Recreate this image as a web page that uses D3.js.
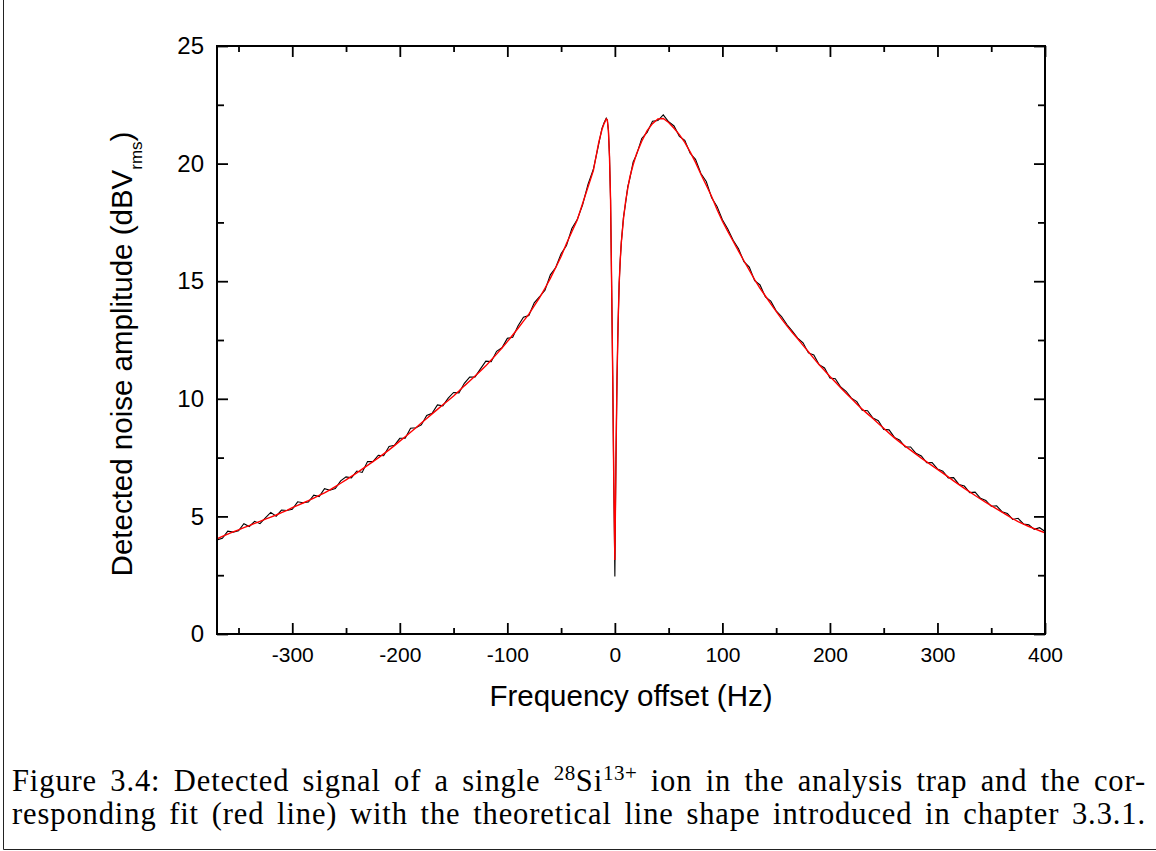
<!DOCTYPE html>
<html>
<head>
<meta charset="utf-8">
<script src="https://cdn.jsdelivr.net/npm/d3@7"></script>
<style>
  html, body { margin: 0; padding: 0; background: #fff; }
  svg { display: block; }
</style>
</head>
<body>
<svg id="chart" width="1156" height="851"></svg>
<script>
// frequency offset (Hz) shared by measured signal and fit
const freq = [
  -370, -365, -360, -355, -350, -345, -340, -335, -330, -325, -320, -315, -310, -305, -300,
  -295, -290, -285, -280, -275, -270, -265, -260, -255, -250, -245, -240, -235, -230, -225,
  -220, -215, -210, -205, -200, -195, -190, -185, -180, -175, -170, -165, -160, -155, -150,
  -145, -140, -135, -130, -125, -120, -115, -110, -105, -100, -95, -90, -85, -80, -75,
  -70, -65, -60, -55, -50, -45, -40, -35, -30, -25, -20, -15,
  -12, -10, -8, -7, -6, -5, -4, -3, -2, -1, 0, 1, 2, 3, 4, 5, 6, 8, 10, 12, 14, 17, 20,
  25, 30, 35, 40, 45, 50, 55, 60, 65, 70, 75, 80, 85, 90, 95, 100,
  105, 110, 115, 120, 125, 130, 135, 140, 145, 150, 155, 160, 165, 170, 175, 180,
  185, 190, 195, 200, 205, 210, 215, 220, 225, 230, 235, 240, 245, 250, 255, 260,
  265, 270, 275, 280, 285, 290, 295, 300, 305, 310, 315, 320, 325, 330, 335, 340,
  345, 350, 355, 360, 365, 370, 375, 380, 385, 390, 395, 400
];

// measured noise amplitude (black)
const signal = [
  4.00, 4.07, 4.37, 4.33, 4.39, 4.69, 4.57, 4.79, 4.69, 4.94, 5.17, 5.01, 5.27, 5.25, 5.30,
  5.62, 5.58, 5.61, 5.90, 5.84, 6.18, 6.11, 6.18, 6.51, 6.68, 6.64, 6.93, 6.87, 7.33, 7.33,
  7.60, 7.58, 7.97, 8.02, 8.32, 8.32, 8.75, 8.77, 8.89, 9.29, 9.38, 9.74, 9.70, 10.03, 10.27,
  10.25, 10.66, 10.92, 10.93, 11.27, 11.60, 11.58, 12.02, 12.17, 12.57, 12.62, 13.11, 13.47, 13.54, 14.08,
  14.34, 14.62, 15.27, 15.58, 16.17, 16.52, 17.24, 17.62, 18.25, 19.12, 19.76, 20.84,
  21.50, 21.74, 21.93, 21.85, 21.40, 20.30, 18.45, 14.80, 11.00, 6.40, 2.45, 7.40, 10.90, 13.20, 14.90, 15.90, 16.65, 17.72, 18.33, 19.02, 19.38, 20.07, 20.36,
  21.07, 21.33, 21.80, 21.83, 22.07, 21.78, 21.60, 21.16, 20.99, 20.44, 20.18, 19.58, 19.24, 18.55, 18.18, 17.61,
  17.22, 16.74, 16.38, 15.83, 15.60, 15.02, 14.84, 14.33, 14.15, 13.74, 13.50, 13.16, 12.88, 12.58, 12.38, 11.95,
  11.86, 11.45, 11.31, 10.88, 10.85, 10.50, 10.32, 10.03, 9.88, 9.51, 9.49, 9.18, 9.07, 8.70, 8.68, 8.36,
  8.24, 7.95, 7.95, 7.68, 7.57, 7.28, 7.29, 7.02, 6.92, 6.64, 6.65, 6.36, 6.29, 6.01, 6.03, 5.77,
  5.68, 5.43, 5.45, 5.20, 5.12, 4.87, 4.92, 4.68, 4.64, 4.45, 4.52, 4.36
];

// fitted line shape (red)
const fit = [
  4.05, 4.15, 4.25, 4.34, 4.43, 4.52, 4.61, 4.70, 4.79, 4.88, 4.97, 5.06, 5.16, 5.26, 5.37,
  5.47, 5.57, 5.67, 5.78, 5.89, 6.00, 6.13, 6.27, 6.41, 6.55, 6.70, 6.85, 7.01, 7.17, 7.33,
  7.49, 7.66, 7.83, 8.01, 8.20, 8.39, 8.58, 8.77, 8.97, 9.16, 9.36, 9.55, 9.75, 9.93, 10.12,
  10.33, 10.55, 10.76, 10.97, 11.18, 11.40, 11.65, 11.90, 12.16, 12.43, 12.71, 13.00, 13.30, 13.60, 13.95,
  14.30, 14.70, 15.12, 15.58, 16.05, 16.60, 17.10, 17.60, 18.30, 19.00, 19.70, 20.90,
  21.45, 21.70, 21.90, 21.85, 21.40, 20.30, 18.45, 14.80, 11.00, 6.40, 3.15, 7.40, 10.90, 13.20, 14.90, 15.90, 16.65, 17.65, 18.40, 18.95, 19.44, 19.95, 20.40,
  20.95, 21.40, 21.70, 21.90, 21.92, 21.75, 21.50, 21.23, 20.90, 20.50, 20.05, 19.55, 19.08, 18.60, 18.05, 17.55,
  17.12, 16.70, 16.28, 15.87, 15.47, 15.07, 14.70, 14.37, 14.04, 13.72, 13.40, 13.10, 12.82, 12.55, 12.27, 12.00,
  11.72, 11.45, 11.20, 10.95, 10.71, 10.47, 10.24, 10.01, 9.78, 9.56, 9.36, 9.16, 8.95, 8.75, 8.54, 8.34,
  8.16, 7.99, 7.82, 7.65, 7.48, 7.32, 7.16, 7.00, 6.84, 6.68, 6.51, 6.35, 6.19, 6.04, 5.89, 5.74,
  5.60, 5.46, 5.32, 5.18, 5.04, 4.90, 4.78, 4.67, 4.57, 4.48, 4.39, 4.30
];

const xTicks = [-300, -200, -100, 0, 100, 200, 300, 400];
const xMinor = [-350, -250, -150, -50, 50, 150, 250, 350];
const yTicks = [0, 5, 10, 15, 20, 25];
const yMinor = [2.5, 7.5, 12.5, 17.5, 22.5];

const svg = d3.select("#chart");
const W = +svg.attr("width");
const H = +svg.attr("height");
const margin = { top: 46, right: 111, bottom: 217, left: 217 };
const innerW = W - margin.left - margin.right;
const innerH = H - margin.top - margin.bottom;
const SANS = "'Liberation Sans', Arial, sans-serif";
const SERIF = "'Liberation Serif', 'Times New Roman', serif";

svg.append("rect").attr("width", W).attr("height", H).attr("fill", "#fff");

// page frame around figure + caption
svg.append("path")
  .attr("d", `M3.5,0 V849.5 H${W}`)
  .attr("fill", "none")
  .attr("stroke", "#222")
  .attr("stroke-width", 1);

const g = svg.append("g").attr("transform", `translate(${margin.left},${margin.top})`);

const x = d3.scaleLinear().domain([-370, 400]).range([0, innerW]);
const y = d3.scaleLinear().domain([0, 25]).range([innerH, 0]);

g.append("clipPath").attr("id", "clip")
  .append("rect").attr("width", innerW).attr("height", innerH);

const pts = freq.map((f, i) => ({ f: f, s: signal[i], r: fit[i] }));

const plot = g.append("g").attr("clip-path", "url(#clip)");

plot.append("path")
  .datum(pts)
  .attr("fill", "none")
  .attr("stroke", "#000")
  .attr("stroke-width", 1.1)
  .attr("d", d3.line().x(d => x(d.f)).y(d => y(d.s)));

plot.append("path")
  .datum(pts)
  .attr("fill", "none")
  .attr("stroke", "#ff0000")
  .attr("stroke-width", 1.4)
  .attr("d", d3.line().x(d => x(d.f)).y(d => y(d.r)));

// --- axes: ticks pointing inwards on all four sides ---
function styleAxis(sel) {
  sel.select(".domain").remove();
  sel.selectAll(".tick line").attr("stroke", "#000").attr("stroke-width", 1.8);
}

// plain hyphen minus, as in the original
const plain = d => String(d);

g.append("g")
  .attr("transform", `translate(0,${innerH})`)
  .call(d3.axisBottom(x).tickValues(xTicks).tickSize(-11).tickPadding(13).tickFormat(plain))
  .call(styleAxis)
  .selectAll("text")
  .style("font-family", SANS)
  .style("font-size", "21px")
  .attr("fill", "#000");

g.append("g")
  .attr("transform", `translate(0,${innerH})`)
  .call(d3.axisBottom(x).tickValues(xMinor).tickSize(-6).tickFormat(""))
  .call(styleAxis);

g.append("g")
  .call(d3.axisTop(x).tickValues(xTicks).tickSize(-11).tickFormat(""))
  .call(styleAxis);

g.append("g")
  .call(d3.axisTop(x).tickValues(xMinor).tickSize(-6).tickFormat(""))
  .call(styleAxis);

g.append("g")
  .call(d3.axisLeft(y).tickValues(yTicks).tickSize(-11).tickPadding(13).tickFormat(plain))
  .call(styleAxis)
  .selectAll("text")
  .style("font-family", SANS)
  .style("font-size", "24px")
  .attr("fill", "#000");

g.append("g")
  .call(d3.axisLeft(y).tickValues(yMinor).tickSize(-7).tickFormat(""))
  .call(styleAxis);

g.append("g")
  .attr("transform", `translate(${innerW},0)`)
  .call(d3.axisRight(y).tickValues(yTicks).tickSize(-11).tickFormat(""))
  .call(styleAxis);

g.append("g")
  .attr("transform", `translate(${innerW},0)`)
  .call(d3.axisRight(y).tickValues(yMinor).tickSize(-7).tickFormat(""))
  .call(styleAxis);

// frame
g.append("rect")
  .attr("width", innerW)
  .attr("height", innerH)
  .attr("fill", "none")
  .attr("stroke", "#000")
  .attr("stroke-width", 2);

// --- axis titles ---
svg.append("text")
  .attr("x", margin.left + innerW / 2)
  .attr("y", 706)
  .attr("text-anchor", "middle")
  .style("font-family", SANS)
  .style("font-size", "29.5px")
  .text("Frequency offset (Hz)");

const yTitle = svg.append("text")
  .attr("transform", "translate(132,354) rotate(-90)")
  .attr("text-anchor", "middle")
  .style("font-family", SANS)
  .style("font-size", "29.5px");
yTitle.append("tspan").text("Detected noise amplitude (dBV");
yTitle.append("tspan").attr("dy", 10).style("font-size", "17px").text("rms");
yTitle.append("tspan").attr("dy", -10).text(")");

// --- caption, justified between x=12 and x=1146 ---
function captionLine(yPos, parts) {
  const t = svg.append("text")
    .attr("x", 12)
    .attr("y", yPos)
    .style("font-family", SERIF)
    .style("font-size", "30.5px")
    .style("letter-spacing", "0.9px")
    .attr("fill", "#000");
  let shift = 0;
  parts.forEach(p => {
    const sp = t.append("tspan").text(p.text);
    const want = p.sup ? -11 : 0;
    if (want !== shift) sp.attr("dy", want - shift);
    shift = want;
    if (p.sup) sp.style("font-size", "21px").style("letter-spacing", "0.5px");
  });
  const full = parts.map(p => p.text).join("");
  const spaces = (full.match(/ /g) || []).length;
  const w = t.node().getComputedTextLength();
  if (spaces > 0) t.style("word-spacing", ((1134 - w) / spaces) + "px");
  return t;
}

captionLine(791, [
  { text: "Figure 3.4: Detected signal of a single " },
  { text: "28", sup: true },
  { text: "Si" },
  { text: "13+", sup: true },
  { text: " ion in the analysis trap and the cor-" }
]);

captionLine(824, [
  { text: "responding fit (red line) with the theoretical line shape introduced in chapter 3.3.1." }
]);
</script>
</body>
</html>
